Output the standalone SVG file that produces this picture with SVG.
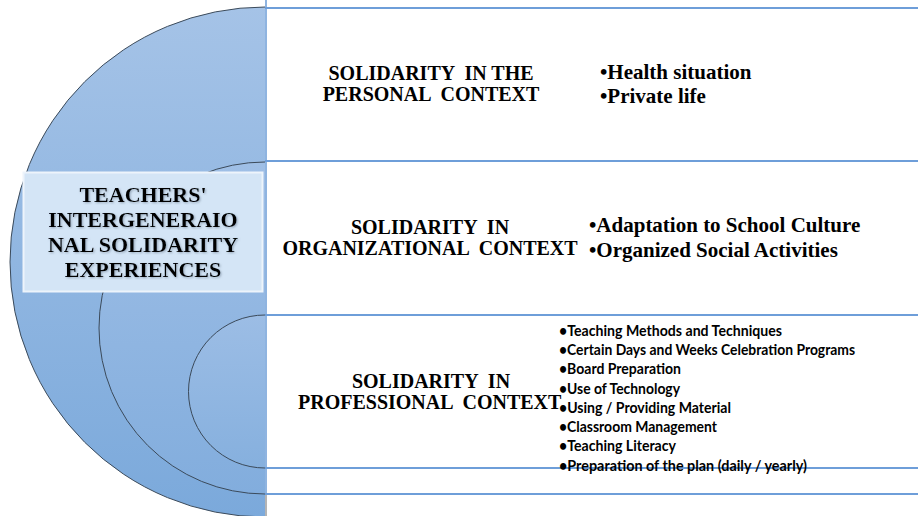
<svg xmlns="http://www.w3.org/2000/svg" width="918" height="516" viewBox="0 0 918 516">
  <defs>
    <linearGradient id="gBig" gradientUnits="userSpaceOnUse" x1="0" y1="7" x2="0" y2="517">
      <stop offset="0" stop-color="#a5c3e7"/>
      <stop offset="1" stop-color="#7ba9db"/>
    </linearGradient>
    <linearGradient id="gMid" gradientUnits="userSpaceOnUse" x1="0" y1="162" x2="0" y2="494">
      <stop offset="0" stop-color="#9fbfe6"/>
      <stop offset="1" stop-color="#82addd"/>
    </linearGradient>
    <linearGradient id="gSmall" gradientUnits="userSpaceOnUse" x1="0" y1="315" x2="0" y2="468">
      <stop offset="0" stop-color="#9cbde5"/>
      <stop offset="1" stop-color="#86b0de"/>
    </linearGradient>
    <filter id="glow" x="-10%" y="-30%" width="120%" height="160%">
      <feGaussianBlur in="SourceAlpha" stdDeviation="1"/>
      <feOffset dx="1" dy="1" result="b"/>
      <feFlood flood-color="#6b7c8f" flood-opacity="0.6"/>
      <feComposite in2="b" operator="in"/>
      <feMerge><feMergeNode/><feMergeNode in="SourceGraphic"/></feMerge>
    </filter>
  </defs>
  <style>
    text { white-space: pre; }
    .arc { fill: none; stroke: #3b4a5a; stroke-width: 1; }
    .band { stroke: #6e9ed9; stroke-width: 2; fill: none; }
    .title { font-family: "Liberation Serif", "Times New Roman", serif; font-weight: bold; font-size: 20px; fill: #000; text-anchor: middle; }
    .center { font-family: "Liberation Serif", "Times New Roman", serif; font-weight: bold; font-size: 22px; fill: #000; text-anchor: middle; }
    .item { font-family: "Liberation Serif", "Times New Roman", serif; font-weight: bold; font-size: 21px; fill: #000; }
    .small { font-family: Lato, "Liberation Sans", sans-serif; font-weight: bold; font-size: 14.5px; fill: #000; }
  </style>
  <rect width="918" height="516" fill="#ffffff"/>

  <g id="target-circles">
    <path d="M265,7 A255,255 0 0 0 265,517 Z" fill="url(#gBig)"/>
    <path class="arc" d="M265,7 A255,255 0 0 0 265,517"/>
    <path d="M265,162 A166,166 0 0 0 265,494 Z" fill="url(#gMid)"/>
    <path class="arc" d="M265,162 A166,166 0 0 0 265,494"/>
    <path d="M265,315 A76.5,76.5 0 0 0 265,468 Z" fill="url(#gSmall)"/>
    <path class="arc" d="M265,315 A76.5,76.5 0 0 0 265,468"/>
  </g>

  <g id="band-lines">
    <line x1="266" y1="0" x2="266" y2="494" stroke="#8fb4e0" stroke-width="2"/>
    <line x1="266" y1="494" x2="266" y2="516" stroke="#b4b4b4" stroke-width="2"/>
    <line class="band" x1="265" y1="8" x2="918" y2="8"/>
    <line class="band" x1="265" y1="161" x2="918" y2="161"/>
    <line class="band" x1="265" y1="315" x2="918" y2="315"/>
    <line class="band" x1="265" y1="468" x2="918" y2="468"/>
    <line class="band" x1="265" y1="494" x2="918" y2="494"/>
  </g>

  <g id="center-node">
    <rect x="23.5" y="172.5" width="239" height="119" fill="#d4e5f6" stroke="#edf4fb" stroke-width="2"/>
    <g filter="url(#glow)">
      <text class="center" x="143" y="201.5">TEACHERS'</text>
      <text class="center" x="143" y="226.5">INTERGENERAIO</text>
      <text class="center" x="143" y="251.5">NAL SOLIDARITY</text>
      <text class="center" x="143" y="277">EXPERIENCES</text>
    </g>
  </g>

  <g id="personal">
    <text class="title" x="431" y="80">SOLIDARITY  IN THE</text>
    <text class="title" x="431" y="101">PERSONAL  CONTEXT</text>
    <text class="item" x="600" y="79">•Health situation</text>
    <text class="item" x="600" y="103">•Private life</text>
  </g>

  <g id="organizational">
    <text class="title" x="430" y="233.5">SOLIDARITY  IN</text>
    <text class="title" x="430" y="254.5">ORGANIZATIONAL  CONTEXT</text>
    <text class="item" x="589" y="232">•Adaptation to School Culture</text>
    <text class="item" x="589" y="256.5">•Organized Social Activities</text>
  </g>

  <g id="professional">
    <text class="title" x="431" y="387.5">SOLIDARITY  IN</text>
    <text class="title" x="298" y="408.5" style="text-anchor:start">PROFESSIONAL  CONTEXT.</text>
    <text class="small" x="559" y="336" textLength="223" lengthAdjust="spacingAndGlyphs">•Teaching Methods and Techniques</text>
    <text class="small" x="559" y="355" textLength="296" lengthAdjust="spacingAndGlyphs">•Certain Days and Weeks Celebration Programs</text>
    <text class="small" x="559" y="374" textLength="122" lengthAdjust="spacingAndGlyphs">•Board Preparation</text>
    <text class="small" x="559" y="393.5" textLength="121" lengthAdjust="spacingAndGlyphs">•Use of Technology</text>
    <text class="small" x="559" y="413" textLength="172" lengthAdjust="spacingAndGlyphs">•Using / Providing Material</text>
    <text class="small" x="559" y="432" textLength="158" lengthAdjust="spacingAndGlyphs">•Classroom Management</text>
    <text class="small" x="559" y="451" textLength="117" lengthAdjust="spacingAndGlyphs">•Teaching Literacy</text>
    <text class="small" x="559" y="470.5" textLength="248" lengthAdjust="spacingAndGlyphs">•Preparation of the plan (daily / yearly)</text>
  </g>
</svg>
